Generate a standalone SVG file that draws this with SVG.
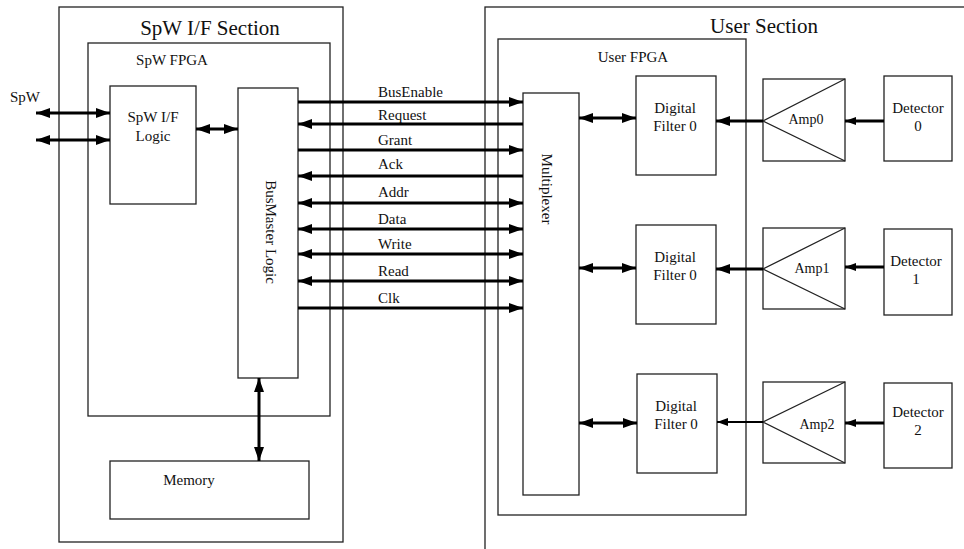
<svg xmlns="http://www.w3.org/2000/svg" width="964" height="549" viewBox="0 0 964 549">
<style>
.box{fill:none;stroke:#222;stroke-width:1.3}
.w{stroke:#000;stroke-width:3;fill:none}
.t{font-family:"Liberation Serif","Times New Roman",serif;fill:#111}
.s{font-size:14px}
.m{font-size:15px}
.big{font-size:21px}
</style>
<defs>
<marker id="ah" viewBox="0 0 14 10" refX="14" refY="5" markerWidth="14" markerHeight="10" markerUnits="userSpaceOnUse" orient="auto-start-reverse">
<path d="M0,0 L14,5 L0,10 Z" fill="#000"/>
</marker>
<marker id="ahs" viewBox="0 0 11 8" refX="11" refY="4" markerWidth="11" markerHeight="8" markerUnits="userSpaceOnUse" orient="auto-start-reverse">
<path d="M0,0 L11,4 L0,8 Z" fill="#000"/>
</marker>
</defs>
<rect width="964" height="549" fill="#fff"/>

<g id="spw-section">
<rect class="box" x="59" y="7" width="284" height="535"/>
<text class="t big" x="210" y="35" text-anchor="middle">SpW I/F Section</text>
</g>
<g id="spw-fpga">
<rect class="box" x="88" y="43" width="242" height="373"/>
<text class="t m" x="172" y="65" text-anchor="middle">SpW FPGA</text>
</g>
<g id="spw-if-logic">
<rect class="box" x="110" y="86" width="86" height="118"/>
<text class="t m" x="153" y="122" text-anchor="middle">SpW I/F</text>
<text class="t m" x="153" y="141" text-anchor="middle">Logic</text>
</g>
<g id="busmaster">
<rect class="box" x="238" y="88" width="60" height="290"/>
<text class="t m" transform="translate(266,232) rotate(90)" text-anchor="middle">BusMaster  Logic</text>
</g>
<g id="memory">
<rect class="box" x="110" y="461" width="199" height="58"/>
<text class="t m" x="189" y="485" text-anchor="middle">Memory</text>
</g>
<g id="spw-label">
<text class="t m" x="10" y="102">SpW</text>
</g>

<g id="user-section">
<rect class="box" x="485" y="7" width="520" height="580"/>
<text class="t big" x="764" y="33" text-anchor="middle">User Section</text>
</g>
<g id="user-fpga">
<rect class="box" x="498" y="39" width="248" height="476"/>
<text class="t m" x="633" y="62" text-anchor="middle">User FPGA</text>
</g>
<g id="multiplexer">
<rect class="box" x="523" y="93" width="56" height="402"/>
<text class="t m" transform="translate(542,189) rotate(90)" text-anchor="middle">Multiplexer</text>
</g>
<g id="filter0">
<rect class="box" x="636" y="76" width="80" height="99"/>
<text class="t m" x="675" y="113" text-anchor="middle">Digital</text>
<text class="t m" x="675" y="131" text-anchor="middle">Filter 0</text>
</g>
<g id="filter1">
<rect class="box" x="636" y="225" width="80" height="99"/>
<text class="t m" x="675" y="262" text-anchor="middle">Digital</text>
<text class="t m" x="675" y="280" text-anchor="middle">Filter 0</text>
</g>
<g id="filter2">
<rect class="box" x="637" y="374" width="80" height="99"/>
<text class="t m" x="676" y="411" text-anchor="middle">Digital</text>
<text class="t m" x="676" y="429" text-anchor="middle">Filter 0</text>
</g>
<g id="amp0">
<rect class="box" x="763" y="79" width="82" height="82"/>
<path class="box" d="M845,79 L763,121 L845,161"/>
<text class="t s" x="806" y="124" text-anchor="middle">Amp0</text>
</g>
<g id="amp1">
<rect class="box" x="763" y="228" width="82" height="81"/>
<path class="box" d="M845,228 L763,269 L845,309"/>
<text class="t s" x="812" y="273" text-anchor="middle">Amp1</text>
</g>
<g id="amp2">
<rect class="box" x="763" y="382" width="82" height="81"/>
<path class="box" d="M845,382 L763,422 L845,463"/>
<text class="t s" x="817" y="429" text-anchor="middle">Amp2</text>
</g>
<g id="detector0">
<rect class="box" x="884" y="76" width="68" height="85"/>
<text class="t m" x="918" y="113" text-anchor="middle">Detector</text>
<text class="t m" x="918" y="131" text-anchor="middle">0</text>
</g>
<g id="detector1">
<rect class="box" x="884" y="229" width="68" height="86"/>
<text class="t m" x="916" y="266" text-anchor="middle">Detector</text>
<text class="t m" x="916" y="284" text-anchor="middle">1</text>
</g>
<g id="detector2">
<rect class="box" x="884" y="383" width="68" height="85"/>
<text class="t m" x="918" y="417" text-anchor="middle">Detector</text>
<text class="t m" x="918" y="435" text-anchor="middle">2</text>
</g>

<g id="connectors">
<line class="w" x1="36" y1="113" x2="110" y2="113" marker-start="url(#ah)" marker-end="url(#ah)"/>
<line class="w" x1="36" y1="140" x2="110" y2="140" marker-start="url(#ah)" marker-end="url(#ah)"/>
<line class="w" x1="196" y1="129" x2="238" y2="129" marker-start="url(#ah)" marker-end="url(#ah)"/>
<line class="w" x1="259" y1="378" x2="259" y2="461" marker-start="url(#ah)" marker-end="url(#ah)"/>

<line class="w" x1="298" y1="102" x2="523" y2="102" marker-end="url(#ah)"/>
<line class="w" x1="523" y1="124" x2="298" y2="124" marker-end="url(#ah)"/>
<line class="w" x1="298" y1="150" x2="523" y2="150" marker-end="url(#ah)"/>
<line class="w" x1="523" y1="176" x2="298" y2="176" marker-end="url(#ah)"/>
<line class="w" x1="298" y1="203" x2="523" y2="203" marker-start="url(#ah)" marker-end="url(#ah)"/>
<line class="w" x1="298" y1="229" x2="523" y2="229" marker-start="url(#ah)" marker-end="url(#ah)"/>
<line class="w" x1="298" y1="254" x2="523" y2="254" marker-start="url(#ah)" marker-end="url(#ah)"/>
<line class="w" x1="298" y1="281" x2="523" y2="281" marker-start="url(#ah)" marker-end="url(#ah)"/>
<line class="w" x1="298" y1="308" x2="523" y2="308" marker-end="url(#ah)"/>

<line class="w" x1="579" y1="118" x2="636" y2="118" marker-start="url(#ah)" marker-end="url(#ah)"/>
<line class="w" x1="579" y1="268" x2="636" y2="268" marker-start="url(#ah)" marker-end="url(#ah)"/>
<line class="w" x1="579" y1="423" x2="637" y2="423" marker-start="url(#ah)" marker-end="url(#ah)"/>

<line class="w" x1="763" y1="121" x2="716" y2="121" marker-end="url(#ah)"/>
<line class="w" x1="763" y1="269" x2="716" y2="269" marker-end="url(#ah)"/>
<line class="w" x1="763" y1="422" x2="717" y2="422" marker-end="url(#ahs)" style="stroke-width:2"/>

<line class="w" x1="884" y1="121" x2="845" y2="121" marker-end="url(#ahs)"/>
<line class="w" x1="884" y1="267" x2="845" y2="267" marker-end="url(#ahs)"/>
<line class="w" x1="884" y1="423" x2="845" y2="423" marker-end="url(#ahs)"/>

<g class="t m">
<text x="378" y="97">BusEnable</text>
<text x="378" y="120">Request</text>
<text x="378" y="145">Grant</text>
<text x="378" y="169">Ack</text>
<text x="378" y="197">Addr</text>
<text x="378" y="224">Data</text>
<text x="378" y="249">Write</text>
<text x="378" y="276">Read</text>
<text x="378" y="303">Clk</text>
</g>
</g>
</svg>
